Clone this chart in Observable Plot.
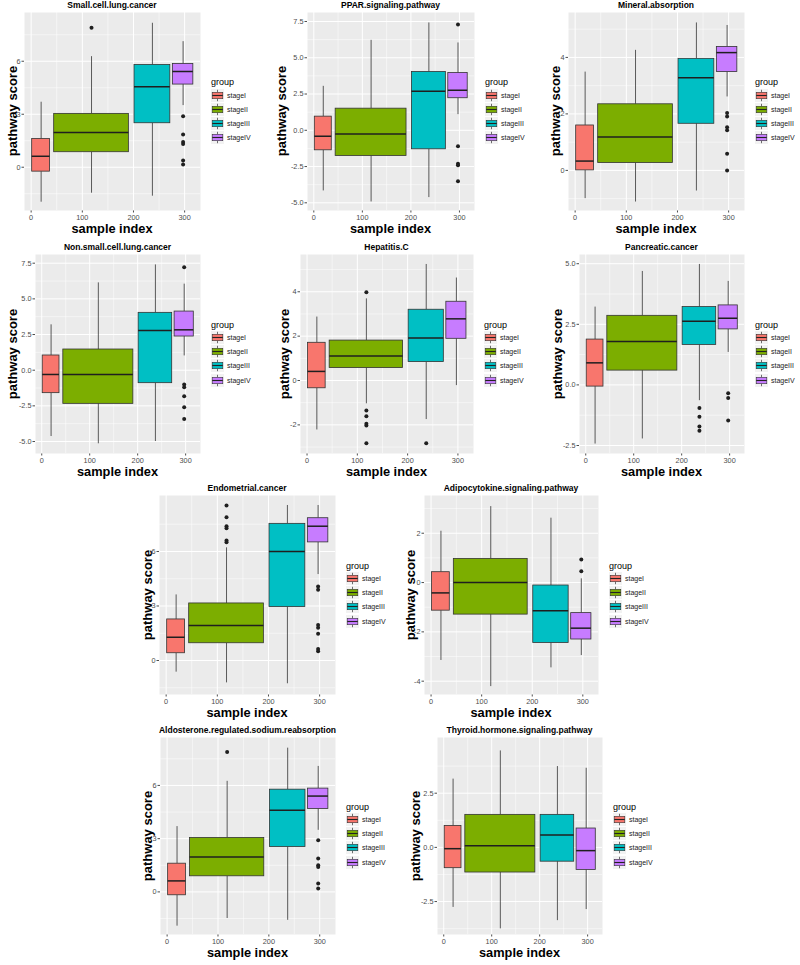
<!DOCTYPE html>
<html>
<head>
<meta charset="utf-8">
<script src="https://cdn.jsdelivr.net/npm/d3@7"></script>
<script src="https://cdn.jsdelivr.net/npm/@observablehq/plot@0.6"></script>
<style>
  body { margin: 0; background: #fff; font-family: "Liberation Sans", Arial, sans-serif; }
  #fig { position: relative; width: 800px; height: 965px; overflow: hidden; background: #fff; }
  .ptitle { position: absolute; font-weight: bold; font-size: 8.5px; line-height: 10px; white-space: nowrap; color: #000; transform: translateX(-50%); }
  .xtitle { position: absolute; font-weight: bold; font-size: 12.8px; line-height: 16px; white-space: nowrap; color: #000; transform: translateX(-50%); }
  .ytitle { position: absolute; font-weight: bold; font-size: 13px; line-height: 14px; white-space: nowrap; color: #000; transform: translate(-50%, -50%) rotate(-90deg); }
  .legend { position: absolute; color: #000; }
  .legend .lt { font-size: 9px; line-height: 12px; height: 12px; }
  .legend .row { display: flex; align-items: center; height: 14.2px; }
  .legend .row span { font-size: 7px; margin-left: 3px; color: #1a1a1a; }
  .plotwrap { position: absolute; }
  .plotwrap svg { overflow: visible; }
</style>
</head>
<body>
<div id="fig"></div>
<script>
// ---------------- DATA ----------------
const groups = ["stageI", "stageII", "stageIII", "stageIV"];
const groupColors = ["#F8766D", "#7CAE00", "#00BFC4", "#C77CFF"];
// box extents and centre along sample index, per group
const boxXMin = [2, 45, 202, 277];
const boxXMax = [37, 191, 272, 317];
const boxXMid = [19.5, 118, 237, 297];
const xTicks = [0, 100, 200, 300];

const panelTitles = [
  "Small.cell.lung.cancer", "PPAR.signaling.pathway", "Mineral.absorption",
  "Non.small.cell.lung.cancer", "Hepatitis.C", "Pancreatic.cancer",
  "Endometrial.cancer", "Adipocytokine.signaling.pathway",
  "Aldosterone.regulated.sodium.reabsorption", "Thyroid.hormone.signaling.pathway"
];

// stats per group: [lower whisker, Q1, median, Q3, upper whisker]
const smallCellLungStats = [[-1.98, -0.25, 0.62, 1.60, 3.68], [-1.47, 0.85, 1.96, 3.02, 6.26], [-1.64, 2.49, 4.55, 5.79, 8.15], [3.49, 4.68, 5.42, 5.85, 7.11]];
const smallCellLungOutliers = [[1, 7.89], [3, 2.89], [3, 1.85], [3, 1.43], [3, 1.32], [3, 0.38], [3, 0.15]];
const smallCellLungTicks = [0, 3, 6];

const pparStats = [[-4.18, -1.38, -0.41, 0.94, 3.03], [-4.94, -1.77, -0.25, 1.49, 6.20], [-4.64, -1.31, 2.69, 4.02, 7.40], [1.08, 2.21, 2.76, 3.95, 6.02]];
const pparOutliers = [[3, 7.29], [3, -1.10], [3, -2.30], [3, -2.41], [3, -3.52]];
const pparTicks = [-5, -2.5, 0, 2.5, 5, 7.5];

const mineralStats = [[-1.00, 0.00, 0.33, 1.59, 3.48], [-1.12, 0.26, 1.18, 2.34, 4.25], [-0.73, 1.65, 3.28, 3.95, 5.22], [2.60, 3.48, 4.17, 4.37, 5.13]];
const mineralOutliers = [[3, 2.03], [3, 1.91], [3, 1.53], [3, 1.42], [3, 0.59], [3, 0.00]];
const mineralTicks = [0, 2, 4];

const nonSmallCellStats = [[-4.65, -1.61, -0.30, 1.03, 3.18], [-5.16, -2.36, -0.30, 1.45, 6.12], [-5.00, -0.91, 2.78, 4.02, 7.38], [1.00, 2.36, 2.83, 4.11, 6.03]];
const nonSmallCellOutliers = [[3, 7.22], [3, -1.00], [3, -1.19], [3, -1.82], [3, -2.59], [3, -3.43]];
const nonSmallCellTicks = [-5, -2.5, 0, 2.5, 5, 7.5];

const hepatitisStats = [[-2.23, -0.35, 0.41, 1.70, 2.86], [-1.05, 0.56, 1.11, 1.80, 3.68], [-1.76, 0.83, 1.92, 3.19, 5.23], [-0.23, 1.88, 2.78, 3.55, 4.62]];
const hepatitisOutliers = [[1, 3.98], [1, -1.35], [1, -1.61], [1, -1.95], [1, -2.03], [1, -2.83], [2, -2.83]];
const hepatitisTicks = [-2, 0, 2, 4];

const pancreaticStats = [[-2.44, -0.07, 0.91, 1.87, 3.21], [-2.23, 0.59, 1.79, 2.85, 4.68], [-0.65, 1.65, 2.63, 3.21, 4.97], [1.34, 2.29, 2.75, 3.28, 4.27]];
const pancreaticOutliers = [[2, -0.95], [2, -1.31], [2, -1.72], [2, -1.89], [3, -0.34], [3, -0.54], [3, -1.47]];
const pancreaticTicks = [-2.5, 0, 2.5, 5];

const endometrialStats = [[-0.64, 0.40, 1.28, 2.26, 3.61], [-1.23, 0.95, 1.93, 3.14, 6.20], [-1.28, 2.94, 6.00, 7.52, 8.53], [4.73, 6.50, 7.39, 7.83, 8.53]];
const endometrialOutliers = [[1, 8.53], [1, 7.89], [1, 7.39], [1, 7.28], [1, 6.61], [1, 6.51], [3, 4.07], [3, 3.89], [3, 1.96], [3, 1.80], [3, 1.47], [3, 0.64], [3, 0.51]];
const endometrialTicks = [0, 3, 6];

const adipocytokineStats = [[-3.16, -1.14, -0.42, 0.42, 2.08], [-4.22, -1.30, 0.00, 0.96, 3.08], [-3.46, -2.45, -1.14, -0.12, 2.61], [-2.96, -2.31, -1.85, -1.24, 0.15]];
const adipocytokineOutliers = [[3, 0.93], [3, 0.46]];
const adipocytokineTicks = [-4, -2, 0, 2];

const aldosteroneStats = [[-1.93, -0.19, 0.62, 1.59, 3.68], [-1.50, 0.88, 1.97, 3.04, 6.23], [-1.60, 2.53, 4.60, 5.76, 8.10], [3.47, 4.67, 5.40, 5.82, 7.07]];
const aldosteroneOutliers = [[1, 7.88], [3, 2.91], [3, 1.88], [3, 1.50], [3, 1.41], [3, 0.47], [3, 0.19]];
const aldosteroneTicks = [0, 3, 6];

const thyroidStats = [[-2.77, -0.96, -0.06, 0.99, 3.15], [-3.76, -1.16, 0.08, 1.50, 4.45], [-3.38, -0.66, 0.57, 1.50, 3.73], [-2.87, -1.04, -0.15, 0.87, 3.65]];
const thyroidOutliers = [];
const thyroidTicks = [-2.5, 0, 2.5];

// ---------------- LAYOUT (positions / scale settings) ----------------
const xDomain = [-13, 331];
const layout = [
  { frame: [24, 12, 200, 210],  yDomain: [-2.45, 8.76], yTitleX: 13,  dec: 0 },
  { frame: [307, 12, 474, 210], yDomain: [-5.53, 8.12], yTitleX: 282, dec: 1 },
  { frame: [568, 12, 744, 210], yDomain: [-1.42, 5.59], yTitleX: 556, dec: 0 },
  { frame: [35, 254, 200, 453], yDomain: [-5.84, 8.11], yTitleX: 13,  dec: 1 },
  { frame: [300, 254, 473, 453], yDomain: [-3.29, 5.68], yTitleX: 285, dec: 0 },
  { frame: [579, 254, 744, 453], yDomain: [-2.83, 5.38], yTitleX: 558, dec: 1 },
  { frame: [159, 495, 335, 694], yDomain: [-1.87, 9.08], yTitleX: 148, dec: 0 },
  { frame: [424, 495, 598, 694], yDomain: [-4.54, 3.53], yTitleX: 411, dec: 0 },
  { frame: [160, 737, 335, 934], yDomain: [-2.40, 8.70], yTitleX: 148, dec: 0 },
  { frame: [437, 737, 602, 934], yDomain: [-4.02, 5.07], yTitleX: 416, dec: 1 }
];
const panelData = [
  [smallCellLungStats, smallCellLungOutliers, smallCellLungTicks],
  [pparStats, pparOutliers, pparTicks],
  [mineralStats, mineralOutliers, mineralTicks],
  [nonSmallCellStats, nonSmallCellOutliers, nonSmallCellTicks],
  [hepatitisStats, hepatitisOutliers, hepatitisTicks],
  [pancreaticStats, pancreaticOutliers, pancreaticTicks],
  [endometrialStats, endometrialOutliers, endometrialTicks],
  [adipocytokineStats, adipocytokineOutliers, adipocytokineTicks],
  [aldosteroneStats, aldosteroneOutliers, aldosteroneTicks],
  [thyroidStats, thyroidOutliers, thyroidTicks]
];

// ---------------- DRAW ----------------
const fig = document.getElementById("fig");
const fmt = dec => d => (d < 0 ? "-" : "") + Math.abs(d).toFixed(dec);
function minorOf(ticks, domain) {
  const step = ticks[1] - ticks[0];
  const out = [];
  for (let v = ticks[0] - step / 2; v <= domain[1]; v += step) if (v >= domain[0]) out.push(v);
  return out;
}
const xMinor = [50, 150, 250];
const idx = [0, 1, 2, 3];

function keySvg(color) {
  return `<svg width="13" height="13" viewBox="0 0 13 13">
    <rect x="0" y="0" width="13" height="13" fill="#F2F2F2"/>
    <line x1="6.5" x2="6.5" y1="0.8" y2="3.3" stroke="#333" stroke-width="0.7"/>
    <line x1="6.5" x2="6.5" y1="9.7" y2="12.2" stroke="#333" stroke-width="0.7"/>
    <rect x="1.2" y="3.3" width="10.6" height="6.4" fill="${color}" stroke="#333" stroke-width="0.6"/>
    <line x1="1.2" x2="11.8" y1="6.5" y2="6.5" stroke="#222" stroke-width="1.1"/>
  </svg>`;
}

panelTitles.forEach((title, p) => {
  const L = layout[p];
  const [stats, outliers, ticks] = panelData[p];
  const [l, t, r, b] = L.frame;
  const mL = 34, mR = 2, mT = 1, mB = 14;
  const chart = Plot.plot({
    width: (r - l) + mL + mR,
    height: (b - t) + mT + mB,
    marginLeft: mL, marginRight: mR, marginTop: mT, marginBottom: mB,
    style: { fontSize: "7.3px", color: "#4d4d4d", fontFamily: "Liberation Sans, Arial, sans-serif", background: "transparent" },
    x: { domain: xDomain, ticks: xTicks, tickSize: 2.5, tickPadding: 1.5, label: null },
    y: { domain: L.yDomain, ticks: ticks, tickFormat: fmt(L.dec), tickSize: 2.5, tickPadding: 1.5, label: null },
    color: { domain: groups, range: groupColors },
    marks: [
      Plot.frame({ fill: "#EBEBEB", stroke: "none" }),
      Plot.ruleX(xMinor, { stroke: "#fff", strokeWidth: 0.5 }),
      Plot.ruleY(minorOf(ticks, L.yDomain), { stroke: "#fff", strokeWidth: 0.5 }),
      Plot.ruleX(xTicks, { stroke: "#fff", strokeWidth: 1 }),
      Plot.ruleY(ticks, { stroke: "#fff", strokeWidth: 1 }),
      Plot.ruleX(idx, { x: i => boxXMid[i], y1: i => stats[i][0], y2: i => stats[i][1], stroke: "#333", strokeWidth: 0.8 }),
      Plot.ruleX(idx, { x: i => boxXMid[i], y1: i => stats[i][3], y2: i => stats[i][4], stroke: "#333", strokeWidth: 0.8 }),
      Plot.rect(idx, { x1: i => boxXMin[i], x2: i => boxXMax[i], y1: i => stats[i][1], y2: i => stats[i][3], fill: i => groups[i], stroke: "#333", strokeWidth: 0.8 }),
      Plot.ruleY(idx, { y: i => stats[i][2], x1: i => boxXMin[i], x2: i => boxXMax[i], stroke: "#1f1f1f", strokeWidth: 1.5 }),
      Plot.dot(outliers, { x: d => boxXMid[d[0]], y: d => d[1], r: 2, fill: "#1f1f1f", stroke: "none" })
    ]
  });
  const wrap = document.createElement("div");
  wrap.className = "plotwrap";
  wrap.style.left = (l - mL) + "px";
  wrap.style.top = (t - mT) + "px";
  wrap.appendChild(chart);
  fig.appendChild(wrap);

  const cx = (l + r) / 2, cy = (t + b) / 2;
  const tt = document.createElement("div");
  tt.className = "ptitle"; tt.textContent = title;
  tt.style.left = cx + "px"; tt.style.top = (t - 12) + "px";
  fig.appendChild(tt);

  const xt = document.createElement("div");
  xt.className = "xtitle"; xt.textContent = "sample index";
  xt.style.left = cx + "px"; xt.style.top = (b + 11) + "px";
  fig.appendChild(xt);

  const yt = document.createElement("div");
  yt.className = "ytitle"; yt.textContent = "pathway score";
  yt.style.left = L.yTitleX + "px"; yt.style.top = cy + "px";
  fig.appendChild(yt);

  const lg = document.createElement("div");
  lg.className = "legend";
  lg.style.left = (r + 11) + "px"; lg.style.top = (cy - 35) + "px";
  lg.innerHTML = `<div class="lt">group</div>` + groups.map((g, i) =>
    `<div class="row">${keySvg(groupColors[i])}<span>${g}</span></div>`).join("");
  fig.appendChild(lg);
});
</script>
</body>
</html>
